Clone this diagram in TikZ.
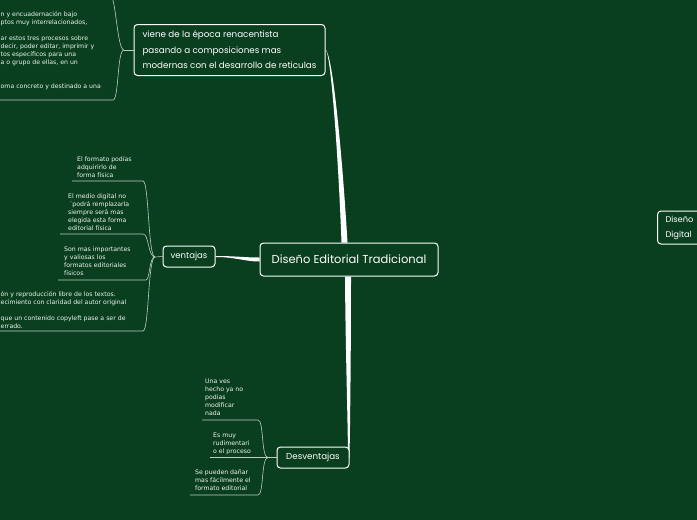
\documentclass[tikz,border=0pt]{standalone}
\usepackage{fontspec}
\setmainfont{DejaVu Sans}
\newfontfamily\hand{Poppins}
\definecolor{bg}{RGB}{9,63,31}
\definecolor{linec}{RGB}{190,205,192}
\definecolor{leaftxt}{RGB}{242,244,242}
\pgfdeclarelayer{back}
\pgfsetlayers{back,main}
\tikzset{
  topic/.style={draw=white, line width=1pt, rounded corners=3.5pt, fill=bg, text=white, inner sep=0pt},
  leaf/.style={anchor=north west, inner sep=0pt, align=left, text=leaftxt, font=\fontsize{6.2}{8}\selectfont},
  sub/.style={draw=linec, line width=0.6pt},
  trunk/.style={fill=white},
}
\begin{document}
\begin{tikzpicture}[x=1pt,y=-1pt]
\useasboundingbox (0,0) rectangle (697,520);
\begin{pgfonlayer}{back}
\fill[bg] (0,0) rectangle (697,520);
\end{pgfonlayer}

% main topics
\node[topic, minimum width=178pt, minimum height=33pt, font=\hand\fontsize{11.5}{13}\selectfont] (root) at (349,259.5) {Diseño Editorial Tradicional};
\node[topic, minimum width=191pt, minimum height=51pt, align=left, font=\hand\fontsize{8.75}{15.5}\selectfont] (hist) at (229.5,50) {viene de la época renacentista\\pasando a composiciones mas\\modernas con el desarrollo de reticulas};
\node[topic, anchor=west, minimum height=33pt, text width=42pt, inner xsep=8pt, align=left, font=\hand\fontsize{8.3}{15}\selectfont] (dig) at (657,227.5) {Diseño\\Digital};
\node[topic, minimum width=52pt, minimum height=21pt, font=\hand\fontsize{8.5}{10}\selectfont] (vent) at (189,256.5) {ventajas};
\node[topic, minimum width=72pt, minimum height=21pt, font=\hand\fontsize{8.7}{10}\selectfont] (desv) at (313,457.5) {Desventajas};

% leaves: top-left
\node[leaf] (t1) at (0.5,11.5) {n y encuadernación bajo\\ptos muy interrelacionados,\\\mbox{}\\ar estos tres procesos sobre\\decir, poder editar, imprimir y\\tos específicos para una\\a o grupo de ellas, en un\\\mbox{}\\\mbox{}\\oma concreto y destinado a una};
% leaves: ventajas
\node[leaf] (v1) at (77,156.5) {El formato podías\\adquirirlo de\\forma física};
\node[leaf] (v2) at (68,193.5) {El medio digital no\\\,´podrá remplazarla\\siempre será mas\\elegida esta forma\\editorial física};
\node[leaf] (v3) at (64,246.5) {Son mas importantes\\y valiosas los\\formatos editoriales\\físicos};
\node[leaf] (v4) at (0.5,291) {ón y reproducción libre de los textos.\\ecimiento con claridad del autor original\\\mbox{}\\que un contenido copyleft pase a ser de\\errado.};
% leaves: desventajas
\node[leaf] (b1) at (205,378.5) {Una ves\\hecho ya no\\podias\\modificar\\nada};
\node[leaf] (b2) at (213,432.5) {Es muy\\rudimentari\\o el proceso};
\node[leaf] (b3) at (195,469.5) {Se pueden dañar\\mas fácilmente el\\formato editorial};

% coordinates for sub connectors
\coordinate (jt) at (124,50);
\coordinate (t0e) at (110,-5);
\coordinate (t1s) at (0,100);
\coordinate (t1e) at (113,100);
\coordinate (jv) at (155,257);
\coordinate (v1s) at (72,181);
\coordinate (v1e) at (143,181);
\coordinate (v2s) at (60,234);
\coordinate (v2e) at (143,234);
\coordinate (v3s) at (58,280);
\coordinate (v3e) at (146,280);
\coordinate (v4s) at (0,331);
\coordinate (v4e) at (143,331);
\coordinate (jd) at (268,457.5);
\coordinate (b1s) at (202,420);
\coordinate (b1e) at (258,420);
\coordinate (b2s) at (210,457.5);
\coordinate (b3s) at (190,495);
\coordinate (b3e) at (258,495);

\begin{pgfonlayer}{back}
% trunk connectors
\fill[trunk] ([yshift=0.6pt]hist.east) .. controls (330.5,51.5) and (338,150) .. ([xshift=-7.5pt]root.north) -- ([xshift=-1.5pt]root.north) .. controls (342,150) and (332,50) .. ([yshift=-0.4pt]hist.east) -- cycle;
\fill[trunk] ([xshift=-4pt]root.south) .. controls (345.5,350) and (347.8,420) .. ([xshift=-1.5pt]desv.east) -- (desv.east) .. controls (350.2,420) and (351,350) .. ([xshift=2pt]root.south) -- cycle;
\fill[trunk] ([yshift=0.5pt]vent.east) .. controls +(20,0) and +(-15,0) .. ([yshift=2pt]root.west) -- ([yshift=-2pt]root.west) .. controls +(-15,0) and +(20,0) .. ([yshift=-0.5pt]vent.east) -- cycle;
\end{pgfonlayer}

% top-left group
\draw[sub] (hist.west) -- (jt);
\draw[sub] (jt) .. controls +(-7,0) and +(6,0) .. (t0e);
\draw[sub] (jt) .. controls +(-7,0) and +(6,0) .. (t1e) -- (t1s);
% ventajas group
\draw[sub] (vent.west) -- (jv);
\draw[sub] (jv) .. controls +(-7,0) and +(6,0) .. (v1e) -- (v1s);
\draw[sub] (jv) .. controls +(-7,0) and +(6,0) .. (v2e) -- (v2s);
\draw[sub] (jv) .. controls +(-6,0) and +(4,0) .. (v3e) -- (v3s);
\draw[sub] (jv) .. controls +(-7,0) and +(6,0) .. (v4e) -- (v4s);
% desventajas group
\draw[sub] (desv.west) -- (jd);
\draw[sub] (jd) .. controls +(-7,0) and +(6,0) .. (b1e) -- (b1s);
\draw[sub] (jd) -- (b2s);
\draw[sub] (jd) .. controls +(-7,0) and +(6,0) .. (b3e) -- (b3s);
\end{tikzpicture}
\end{document}
